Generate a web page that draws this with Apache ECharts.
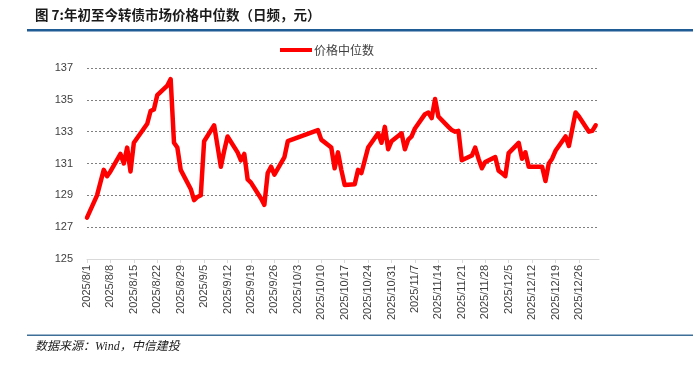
<!DOCTYPE html>
<html><head><meta charset="utf-8">
<script src="https://cdn.jsdelivr.net/npm/echarts@6/dist/echarts.min.js"></script>
<style>html,body{margin:0;padding:0;background:#fff}#c{width:693px;height:369px}</style>
</head><body><div id="c"></div>
<script>
const dates = [
'2025-08-01','2025-08-04','2025-08-05','2025-08-06','2025-08-07','2025-08-08',
'2025-08-11','2025-08-12','2025-08-13','2025-08-14','2025-08-15',
'2025-08-18','2025-08-19','2025-08-20','2025-08-21','2025-08-22',
'2025-08-25','2025-08-26','2025-08-27','2025-08-28','2025-08-29',
'2025-09-01','2025-09-02','2025-09-03','2025-09-04','2025-09-05',
'2025-09-08','2025-09-09','2025-09-10','2025-09-11','2025-09-12',
'2025-09-15','2025-09-16','2025-09-17','2025-09-18','2025-09-19',
'2025-09-22','2025-09-23','2025-09-24','2025-09-25','2025-09-26',
'2025-09-29','2025-09-30','2025-10-09','2025-10-10',
'2025-10-13','2025-10-14','2025-10-15','2025-10-16','2025-10-17',
'2025-10-20','2025-10-21','2025-10-22','2025-10-23','2025-10-24',
'2025-10-27','2025-10-28','2025-10-29','2025-10-30','2025-10-31',
'2025-11-03','2025-11-04','2025-11-05','2025-11-06','2025-11-07',
'2025-11-10','2025-11-11','2025-11-12','2025-11-13','2025-11-14',
'2025-11-17','2025-11-18','2025-11-19','2025-11-20','2025-11-21',
'2025-11-24','2025-11-25','2025-11-26','2025-11-27','2025-11-28',
'2025-12-01','2025-12-02','2025-12-03','2025-12-04','2025-12-05',
'2025-12-08','2025-12-09','2025-12-10','2025-12-11','2025-12-12',
'2025-12-15','2025-12-16','2025-12-17','2025-12-18','2025-12-19',
'2025-12-22','2025-12-23','2025-12-24','2025-12-25','2025-12-26',
'2025-12-29','2025-12-30','2025-12-31'
];
const medianPrice = [
127.6,129.0,129.8,130.6,130.2,130.5,
131.6,131.0,132.0,130.5,132.3,
133.2,133.5,134.3,134.4,135.3,
135.9,136.3,132.3,132.0,130.6,
129.4,128.7,128.9,129.0,132.4,
133.4,132.1,130.8,131.8,132.7,
131.7,131.2,131.6,130.0,129.8,
128.8,128.4,130.4,130.8,130.3,
131.4,132.4,133.1,132.5,
132.0,130.7,131.7,130.6,129.65,
129.7,130.6,130.4,131.2,132.0,
132.9,132.3,133.3,131.9,132.4,
132.9,131.9,132.5,132.7,133.2,
134.1,134.2,133.85,135.05,133.95,
133.3,133.1,133.0,133.05,131.2,
131.5,132.0,131.3,130.7,131.1,
131.4,130.55,130.4,130.2,131.65,
132.3,131.3,131.7,130.8,130.8,
130.8,129.9,131.0,131.3,131.8,
132.7,132.1,133.15,134.2,133.95,
133.0,133.05,133.4
];
const tickDates = ['2025-08-01','2025-08-08','2025-08-15','2025-08-22','2025-08-29','2025-09-05','2025-09-12','2025-09-19','2025-09-26','2025-10-03','2025-10-10','2025-10-17','2025-10-24','2025-10-31','2025-11-07','2025-11-14','2025-11-21','2025-11-28','2025-12-05','2025-12-12','2025-12-19','2025-12-26'];
const axisStart = '2025-08-01', axisEnd = '2026-01-01';
const yTicks = [125,137,2];
const seriesName = '价格中位数';
const titleText = '图 7:年初至今转债市场价格中位数（日频，元）';
const sourceText = '数据来源：Wind，中信建投';

function dayOf(s){const p=s.split('-').map(Number);return Math.round((Date.UTC(p[0],p[1]-1,p[2])-Date.UTC(2025,7,1))/86400000);}
function labelOf(d){const t=new Date(Date.UTC(2025,7,1)+d*86400000);return t.getUTCFullYear()+'/'+(t.getUTCMonth()+1)+'/'+t.getUTCDate();}
const data = dates.map((s,i)=>[dayOf(s),medianPrice[i]]);
const tickVals = tickDates.map(dayOf);

const chart = echarts.init(document.getElementById('c'),null,{renderer:'canvas'});
chart.setOption({
  animation:false,
  title:[{text:titleText,left:35,top:8,padding:0,textStyle:{fontFamily:'"Noto Sans CJK SC"',fontSize:13.5,fontWeight:'bold',color:'#1a1a1a'}}],
  legend:{data:[seriesName],left:280,top:44,icon:'rect',itemWidth:32,itemHeight:4,itemGap:0,padding:0,
    textStyle:{fontFamily:'"Noto Sans CJK SC"',fontSize:12,color:'#404040',padding:[0,0,0,-3]}},
  grid:{left:87,right:94,top:68,bottom:110},
  xAxis:{type:'value',min:dayOf(axisStart),max:dayOf(axisEnd),
    axisLine:{show:true,lineStyle:{color:'#d9d9d9',width:1}},
    axisTick:{show:true,customValues:tickVals,length:4,lineStyle:{color:'#d9d9d9'}},
    axisLabel:{customValues:tickVals,rotate:90,formatter:v=>labelOf(v),color:'#404040',fontFamily:'"Liberation Sans"',fontSize:11,margin:6},
    splitLine:{show:false}},
  yAxis:{type:'value',min:yTicks[0],max:yTicks[1],interval:yTicks[2],
    axisLine:{show:false},axisTick:{show:false},
    axisLabel:{color:'#404040',fontFamily:'"Liberation Sans"',fontSize:11,margin:14},
    splitLine:{lineStyle:{color:'#7f7f7f',type:[2,2],width:1}}},
  series:[{name:seriesName,type:'line',data:data,showSymbol:false,symbol:'none',
    lineStyle:{color:'#ff0000',width:4.5,cap:'round',join:'round'},itemStyle:{color:'#ff0000'}}],
  graphic:[
    {type:'rect',shape:{x:27,y:29,width:666,height:2.5},style:{fill:'#1f5b95'}},
    {type:'rect',shape:{x:27,y:334.5,width:666,height:1.5},style:{fill:'#3d6f98'}},
    {type:'text',left:35,top:341,style:{text:sourceText,fontFamily:'"Liberation Serif","Noto Sans CJK SC"',fontStyle:'italic',fontSize:12,fill:'#1a1a1a'}}
  ]
});
</script></body></html>
